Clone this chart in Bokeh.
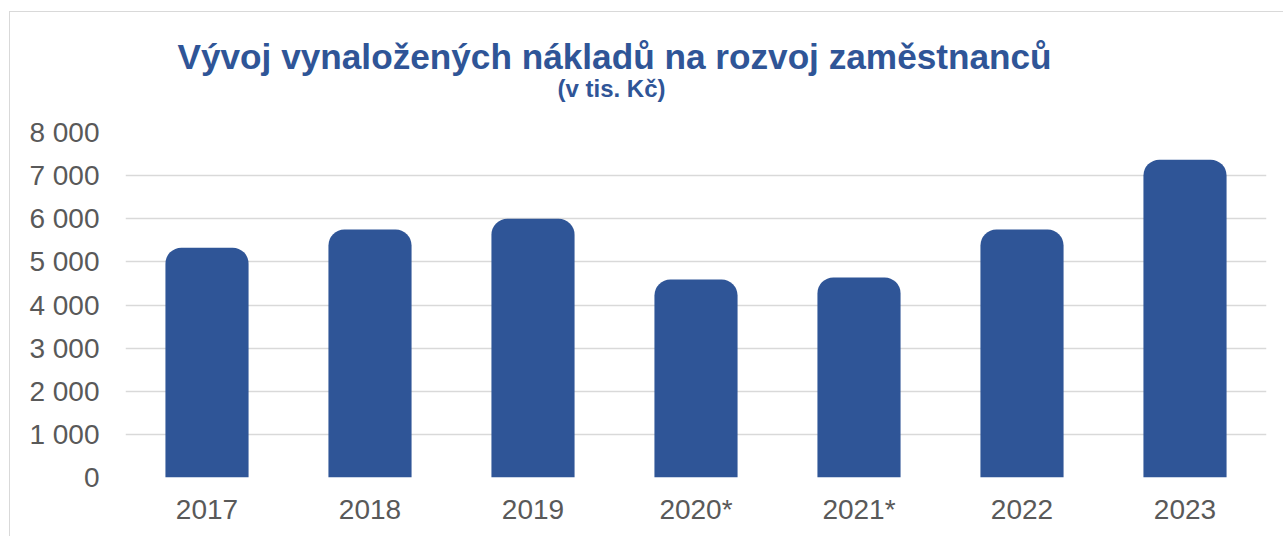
from bokeh.plotting import figure
from bokeh.models import Title, FixedTicker, VBar, ColumnDataSource
from bokeh.embed import file_html
from bokeh.resources import INLINE

# ---- data ----
years = ["2017", "2018", "2019", "2020*", "2021*", "2022", "2023"]
costs = [5330, 5750, 6000, 4590, 4640, 5750, 7370]
y_ticks = [0, 1000, 2000, 3000, 4000, 5000, 6000, 7000, 8000]
y_tick_labels = ["0", "1 000", "2 000", "3 000", "4 000", "5 000", "6 000", "7 000", "8 000"]
title_text = "Vývoj vynaložených nákladů na rozvoj zaměstnanců"
subtitle_text = "(v tis. Kč)"

BLUE = "#2F5597"
GREY_TXT = "#595959"
FONT = "Liberation Sans"

p = figure(
    x_range=years, y_range=(0, 8000),
    width=1274, height=525,
    output_backend="svg", toolbar_location=None,
    title=title_text,
    min_border_left=115, min_border_right=18,
    min_border_top=120, min_border_bottom=60,
)
p.margin = (11, 0, 0, 9)
p.styles = {"border-left": "1px solid #d9d9d9", "border-top": "1px solid #d9d9d9"}
p.background_fill_color = "white"
p.border_fill_color = "white"
p.outline_line_color = None
p.x_range.range_padding = 0

# main title (outermost)
p.title.align = "left"
p.title.offset = 52
p.title.text_font = FONT
p.title.text_font_size = "35.2px"
p.title.text_font_style = "bold"
p.title.text_color = BLUE
p.title.standoff = -6

# spacer between frame and subtitle
spacer = Title(text=" ", text_font_size="1px", standoff=28)
p.add_layout(spacer, "above")

# subtitle
sub = Title(text=subtitle_text, align="left", offset=432,
            text_font=FONT, text_font_size="24px", text_font_style="bold",
            text_color=BLUE, standoff=0)
p.add_layout(sub, "above")

src = ColumnDataSource(dict(year=years, cost=costs))
kw = {}
if "border_radius" in VBar.properties():
    kw["border_radius"] = (16, 16, 0, 0)
p.vbar(x="year", top="cost", width=0.51, source=src,
       fill_color=BLUE, line_color=None, **kw)

# axes
p.yaxis.ticker = FixedTicker(ticks=y_ticks)
p.yaxis.major_label_overrides = {t: l for t, l in zip(y_ticks, y_tick_labels)}
for ax in (p.xaxis[0], p.yaxis[0]):
    ax.axis_line_color = None
    ax.major_tick_line_color = None
    ax.minor_tick_line_color = None
    ax.major_tick_out = 0
    ax.major_tick_in = 0
    ax.major_label_text_font = FONT
    ax.major_label_text_font_size = "28px"
    ax.major_label_text_color = GREY_TXT
p.yaxis.major_label_standoff = 26
p.xaxis.major_label_standoff = 16

p.xgrid.grid_line_color = None
p.ygrid.grid_line_color = "#d9d9d9"
p.ygrid.grid_line_width = 1.5

open("out.html", "w").write(file_html(p, INLINE))
